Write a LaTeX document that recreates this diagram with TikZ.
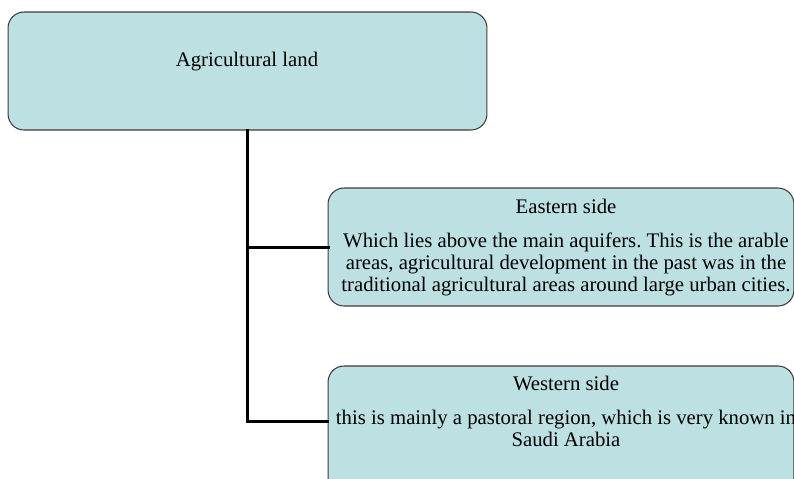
\documentclass[tikz,border=0pt]{standalone}
\usepackage{fontspec}
\setmainfont{Liberation Serif}
\frenchspacing
\definecolor{boxfill}{RGB}{189,224,226}
\definecolor{boxline}{RGB}{60,60,60}
\tikzstyle{box}=[rectangle,draw=boxline,fill=boxfill,line width=0.6pt,rounded corners=0.32cm,inner sep=0,outer sep=0]
\tikzset{
  txt/.style={inner sep=0,align=center,font=\fontsize{11.8}{12.5}\selectfont}
}
\tikzset{
  branch/.style={line width=1.7pt,line cap=rect}
}

\begin{document}
\begin{tikzpicture}[x=0.02cm,y=-0.02cm]

\useasboundingbox (0,0) rectangle (794,478);
\clip (0,0) rectangle (794,478);

\node[box,minimum width=9.58cm,minimum height=2.36cm] (land) at (247.5,71) {};
\node[box,minimum width=9.32cm,minimum height=2.36cm] (east) at (561,247) {};
\node[box,minimum width=9.32cm,minimum height=2.8cm] (west) at (561,436) {};
\coordinate (wjoin) at (328,421);

\draw[branch] (land.south) |- (east.west);
\draw[branch] (land.south) |- (wjoin);

\node[txt] (landT) at (247,62) {Agricultural land};
\node[txt] (eastT) at (566,206) {Eastern side};
\node[txt] (eastP) at (566,264) {Which lies above the main aquifers. This is the arable\\
areas, agricultural development in the past was in the\\
traditional agricultural areas around large urban cities.};
\node[txt] (westT) at (566,383) {Western side};
\node[txt] (westP) at (566,428) {this is mainly a pastoral region, which is very known in\\
Saudi Arabia};

\end{tikzpicture}
\end{document}
